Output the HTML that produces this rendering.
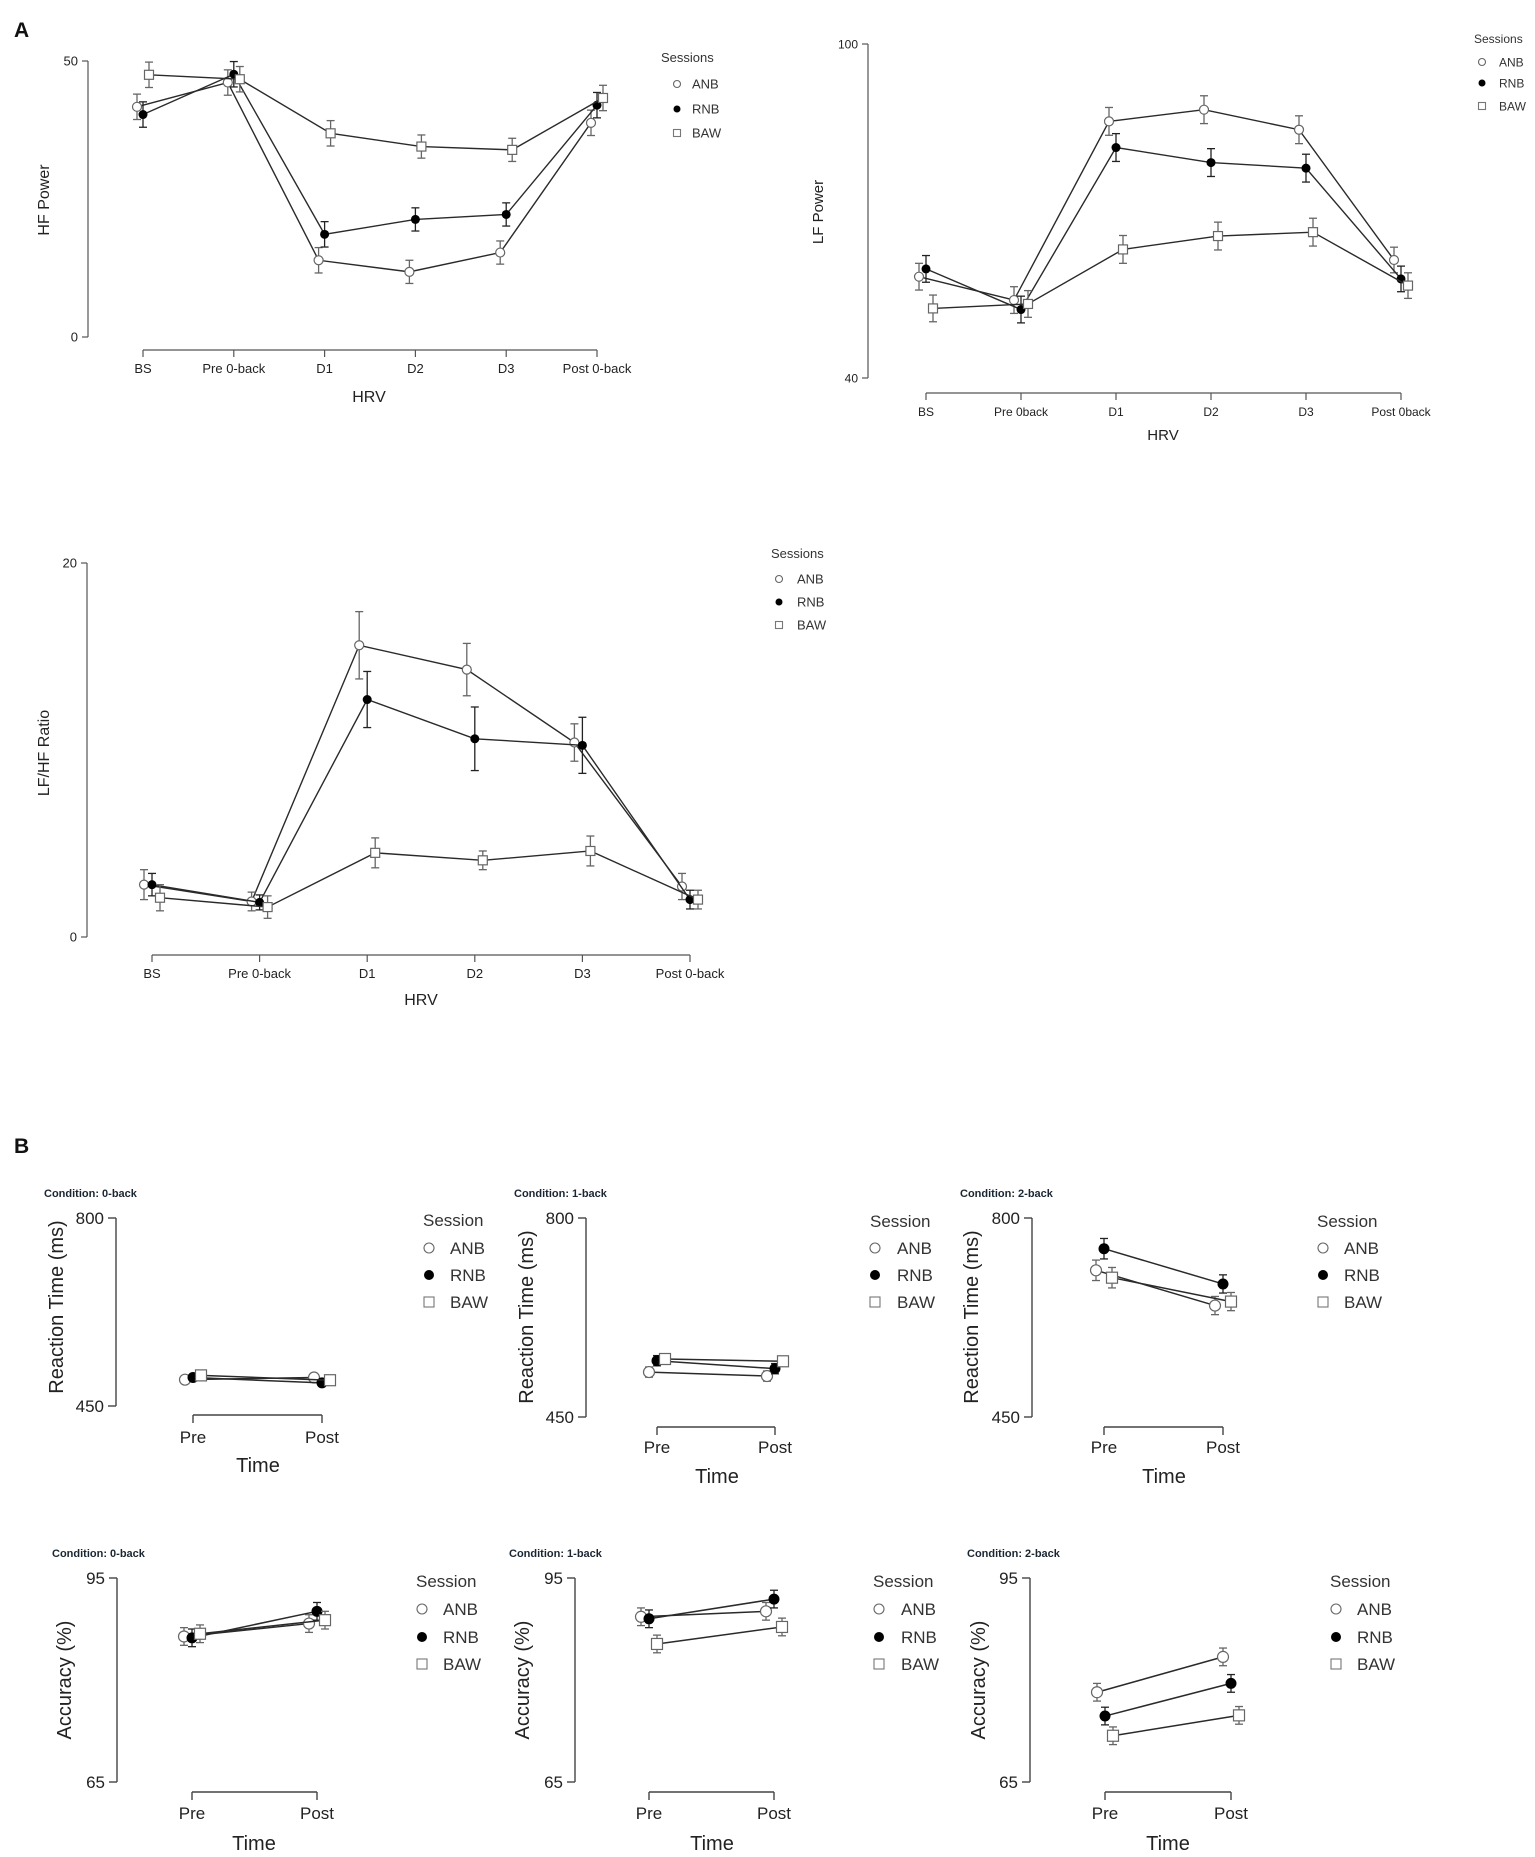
<!DOCTYPE html>
<html><head><meta charset="utf-8">
<style>
html,body{margin:0;padding:0;background:#fff;}
svg{display:block;font-family:"Liberation Sans",Arial,sans-serif;}
</style></head>
<body>
<svg id="fig" width="1535" height="1857" viewBox="0 0 1535 1857" xmlns="http://www.w3.org/2000/svg">
<rect width="1535" height="1857" fill="#fff"/>
<text x="14" y="37" font-size="21" font-weight="bold" fill="#111">A</text>
<text x="14" y="1153" font-size="21" font-weight="bold" fill="#111">B</text>
</svg>
<script>
// ---- Data ----
const sessions = ["ANB","RNB","BAW"];
const hrvCats = ["BS","Pre 0-back","D1","D2","D3","Post 0-back"];
const hrvCatsLF = ["BS","Pre 0back","D1","D2","D3","Post 0back"];
const timeCats = ["Pre","Post"];

const hfANB = [41.7,46.1,13.9,11.8,15.3,38.8];
const hfRNB = [40.3,47.6,18.6,21.3,22.2,42.0];
const hfBAW = [47.5,46.7,36.9,34.5,33.9,43.3];
const hfErr = [2.3,2.3,2.3,2.1,2.1,2.3];

const lfANB = [58.2,54.0,86.1,88.2,84.6,61.2];
const lfRNB = [59.6,52.3,81.4,78.7,77.7,57.8];
const lfBAW = [52.5,53.3,63.1,65.5,66.2,56.6];
const lfErr = [2.4,2.4,2.5,2.5,2.5,2.3];

const ratioANB = [2.8,1.9,15.6,14.3,10.4,2.7];
const ratioRNB = [2.8,1.85,12.7,10.6,10.25,2.0];
const ratioBAW = [2.1,1.6,4.5,4.1,4.6,2.0];
const ratioErrANB = [0.8,0.5,1.8,1.4,1.0,0.7];
const ratioErrRNB = [0.6,0.4,1.5,1.7,1.5,0.5];
const ratioErrBAW = [0.7,0.6,0.8,0.5,0.8,0.5];

const rt0ANB = [499,503], rt0RNB = [503,493], rt0BAW = [507,498];
const rt1ANB = [529,522], rt1RNB = [549,535], rt1BAW = [552,548];
const rt2ANB = [708,646], rt2RNB = [746,684], rt2BAW = [695,653];
const rtErr0 = [6,6], rtErr1 = [9,9], rtErr2 = [18,16];

const acc0ANB = [86.4,88.3], acc0RNB = [86.2,90.1], acc0BAW = [86.8,88.8];
const acc1ANB = [89.3,90.1], acc1RNB = [89.0,91.9], acc1BAW = [85.3,87.8];
const acc2ANB = [78.2,83.4], acc2RNB = [74.7,79.5], acc2BAW = [71.8,74.8];
const accErr = [1.3,1.3];

const hfTicks = [0,50], lfTicks = [40,100], ratioTicks = [0,20], rtTicks = [450,800], accTicks = [65,95];

// ---- Drawing ----
const svg = document.getElementById('fig');
const NS = 'http://www.w3.org/2000/svg';
function el(tag, attrs, parent){
  const e = document.createElementNS(NS, tag);
  for (const k in attrs) e.setAttribute(k, attrs[k]);
  (parent||svg).appendChild(e);
  return e;
}
function txt(x,y,s,size,anchor,parent,extra){
  const t = el('text',{x:x,y:y,'font-size':size,'text-anchor':anchor||'start',fill:'#222'},parent);
  if(extra) for(const k in extra) t.setAttribute(k,extra[k]);
  t.textContent = s;
  return t;
}

function panel(c){
  const g = el('g',{});
  
  
  const yScale = v => c.yBot - (v - c.ticks[0])/(c.ticks[1]-c.ticks[0])*(c.yBot-c.yTop);
  const n = c.cats.length;
  const xScale = i => c.x0 + i*(c.x1-c.x0)/(n-1);
  const ya = el('g',{},g);
  
  
  el('line',{x1:c.axX,y1:c.yTop,x2:c.axX,y2:c.yBot,stroke:c.axColor,'stroke-width':c.axW},ya);
  c.ticks.forEach(v=>{
    const y = yScale(v);
    el('line',{x1:c.axX-c.tickLen,y1:y,x2:c.axX,y2:y,stroke:c.axColor,'stroke-width':c.axW},ya);
    const t = txt(c.axX-c.tickLen-4,y+c.tickFs*0.36,String(v),c.tickFs,'end',ya);
    
    
  });
  const xa = el('g',{},g);
  
  
  el('line',{x1:c.x0,y1:c.baseY,x2:c.x1,y2:c.baseY,stroke:c.axColor,'stroke-width':c.axW},xa);
  c.cats.forEach((s,i)=>{
    const x = xScale(i);
    el('line',{x1:x,y1:c.baseY,x2:x,y2:c.baseY+c.xTickLen,stroke:c.axColor,'stroke-width':c.axW},xa);
    const t = txt(x,c.labY,s,c.xFs,'middle',xa);
    
    
  });
  const xt = txt(c.xTitleX,c.xTitleY,c.xTitle,c.titleFs,'middle',g);
  
  
  const yt = txt(0,0,c.yTitle,c.titleFs,'middle',g,{transform:`translate(${c.yTitleX},${c.yTitleY}) rotate(-90)`});
  
  
  if(c.cond){
    const ct = txt(c.condX,c.condY,c.cond,11,'start',g,{'font-weight':'bold',fill:'#1b2633'});
    
    
  }
  const shapes = ['circle','dot','square'];
  c.series.forEach((vals,si)=>{
    const sg = el('g',{},g);
    
    
    const off = c.offsets[si];
    const errs = Array.isArray(c.err[0]) ? c.err[si] : c.err;
    const pts = vals.map((v,i)=>[xScale(i)+off, yScale(v)]);
    el('polyline',{points:pts.map(p=>p.join(',')).join(' '),fill:'none',stroke:'#2a2a2a','stroke-width':c.lineW},sg);
    vals.forEach((v,i)=>{
      const x = pts[i][0], e = errs[i];
      const ya1 = yScale(v+e), ya2 = yScale(v-e);
      const ec = si===1 ? '#222' : '#666';
      el('line',{x1:x,y1:ya1,x2:x,y2:ya2,stroke:ec,'stroke-width':1.3},sg);
      el('line',{x1:x-c.cap,y1:ya1,x2:x+c.cap,y2:ya1,stroke:ec,'stroke-width':1.3},sg);
      el('line',{x1:x-c.cap,y1:ya2,x2:x+c.cap,y2:ya2,stroke:ec,'stroke-width':1.3},sg);
    });
    pts.forEach(p=>{
      let m;
      if(shapes[si]==='square') m = el('rect',{x:p[0]-c.r,y:p[1]-c.r,width:2*c.r,height:2*c.r,fill:'#fff',stroke:'#666','stroke-width':1.2},sg);
      else if(shapes[si]==='dot') m = el('circle',{cx:p[0],cy:p[1],r:c.r,fill:'#000'},sg);
      else m = el('circle',{cx:p[0],cy:p[1],r:c.r,fill:'#fff',stroke:'#666','stroke-width':1.2},sg);
      
      
    });
  });
  const lg = el('g',{},g);
  
  
  const lt = txt(c.legX,c.legTitleY,c.legTitle,c.legFs,'start',lg,{fill:'#333'});
  
  
  sessions.forEach((s,si)=>{
    const y = c.legYs[si];
    const eg = el('g',{},lg);
    
    
    const rr = c.legR;
    if(si===0) el('circle',{cx:c.legMX,cy:y,r:rr,fill:'#fff',stroke:'#666','stroke-width':1.1},eg);
    else if(si===1) el('circle',{cx:c.legMX,cy:y,r:rr,fill:'#000'},eg);
    else el('rect',{x:c.legMX-rr,y:y-rr,width:2*rr,height:2*rr,fill:'#fff',stroke:'#777','stroke-width':1.1},eg);
    txt(c.legTX,y+c.legFs*0.36,s,c.legFs,'start',eg,{fill:'#333'});
  });
}

const baseA = {axColor:'#555',axW:1.2,tickLen:6,xTickLen:7,lineW:1.4,cap:4,r:4.5,offsets:[-6,0,6],legR:3.5};
panel(Object.assign({},baseA,{name:'hf-power-chart',cats:hrvCats,series:[hfANB,hfRNB,hfBAW],err:hfErr,ticks:hfTicks,
  axX:88,yTop:61,yBot:337,x0:143,x1:597,baseY:350,labY:373,tickFs:13,xFs:13,titleFs:16,
  xTitle:'HRV',xTitleX:369,xTitleY:402,yTitle:'HF Power',yTitleX:49,yTitleY:200,
  legTitle:'Sessions',legX:661,legTitleY:62,legFs:13,legYs:[84,109,133],legMX:677,legTX:692}));
panel(Object.assign({},baseA,{name:'lf-power-chart',cats:hrvCatsLF,series:[lfANB,lfRNB,lfBAW],err:lfErr,ticks:lfTicks,
  axX:868,yTop:44,yBot:378,x0:926,x1:1401,baseY:393,labY:416,tickFs:12,xFs:12,titleFs:15,offsets:[-7,0,7],
  xTitle:'HRV',xTitleX:1163,xTitleY:440,yTitle:'LF Power',yTitleX:823,yTitleY:212,
  legTitle:'Sessions',legX:1474,legTitleY:43,legFs:12,legYs:[62,83,106],legMX:1482,legTX:1499}));
panel(Object.assign({},baseA,{name:'lf-hf-ratio-chart',cats:hrvCats,series:[ratioANB,ratioRNB,ratioBAW],err:[ratioErrANB,ratioErrRNB,ratioErrBAW],ticks:ratioTicks,
  axX:87,yTop:563,yBot:937,x0:152,x1:690,baseY:955,labY:978,tickFs:13,xFs:13,titleFs:16,offsets:[-8,0,8],
  xTitle:'HRV',xTitleX:421,xTitleY:1005,yTitle:'LF/HF Ratio',yTitleX:49,yTitleY:753,
  legTitle:'Sessions',legX:771,legTitleY:558,legFs:13,legYs:[579,602,625],legMX:779,legTX:797}));

const baseB = {axColor:'#444',axW:1.4,tickLen:8,xTickLen:8,lineW:1.5,cap:4,r:5.5,offsets:[-8,0,8],legR:5,
  tickFs:17,xFs:17,titleFs:20,legFs:17,xTitle:'Time',legTitle:'Session'};
panel(Object.assign({},baseB,{name:'rt-0back-chart',cond:'Condition: 0-back',condX:44,condY:1197,cats:timeCats,series:[rt0ANB,rt0RNB,rt0BAW],err:rtErr0,ticks:rtTicks,
  axX:116,yTop:1218,yBot:1406,x0:193,x1:322,baseY:1415,labY:1443,xTitleX:258,xTitleY:1472,
  yTitle:'Reaction Time (ms)',yTitleX:63,yTitleY:1307,legX:423,legTitleY:1226,legYs:[1248,1275,1302],legMX:429,legTX:450}));
panel(Object.assign({},baseB,{name:'rt-1back-chart',cond:'Condition: 1-back',condX:514,condY:1197,cats:timeCats,series:[rt1ANB,rt1RNB,rt1BAW],err:rtErr1,ticks:rtTicks,
  axX:586,yTop:1218,yBot:1417,x0:657,x1:775,baseY:1427,labY:1453,xTitleX:717,xTitleY:1483,
  yTitle:'Reaction Time (ms)',yTitleX:533,yTitleY:1317,legX:870,legTitleY:1227,legYs:[1248,1275,1302],legMX:875,legTX:897}));
panel(Object.assign({},baseB,{name:'rt-2back-chart',cond:'Condition: 2-back',condX:960,condY:1197,cats:timeCats,series:[rt2ANB,rt2RNB,rt2BAW],err:rtErr2,ticks:rtTicks,
  axX:1032,yTop:1218,yBot:1417,x0:1104,x1:1223,baseY:1427,labY:1453,xTitleX:1164,xTitleY:1483,
  yTitle:'Reaction Time (ms)',yTitleX:978,yTitleY:1317,legX:1317,legTitleY:1227,legYs:[1248,1275,1302],legMX:1323,legTX:1344}));
panel(Object.assign({},baseB,{name:'acc-0back-chart',cond:'Condition: 0-back',condX:52,condY:1557,cats:timeCats,series:[acc0ANB,acc0RNB,acc0BAW],err:accErr,ticks:accTicks,
  axX:117,yTop:1578,yBot:1782,x0:192,x1:317,baseY:1792,labY:1819,xTitleX:254,xTitleY:1850,
  yTitle:'Accuracy (%)',yTitleX:71,yTitleY:1680,legX:416,legTitleY:1587,legYs:[1609,1637,1664],legMX:422,legTX:443}));
panel(Object.assign({},baseB,{name:'acc-1back-chart',cond:'Condition: 1-back',condX:509,condY:1557,cats:timeCats,series:[acc1ANB,acc1RNB,acc1BAW],err:accErr,ticks:accTicks,
  axX:575,yTop:1578,yBot:1782,x0:649,x1:774,baseY:1792,labY:1819,xTitleX:712,xTitleY:1850,
  yTitle:'Accuracy (%)',yTitleX:529,yTitleY:1680,legX:873,legTitleY:1587,legYs:[1609,1637,1664],legMX:879,legTX:901}));
panel(Object.assign({},baseB,{name:'acc-2back-chart',cond:'Condition: 2-back',condX:967,condY:1557,cats:timeCats,series:[acc2ANB,acc2RNB,acc2BAW],err:accErr,ticks:accTicks,
  axX:1030,yTop:1578,yBot:1782,x0:1105,x1:1231,baseY:1792,labY:1819,xTitleX:1168,xTitleY:1850,
  yTitle:'Accuracy (%)',yTitleX:985,yTitleY:1680,legX:1330,legTitleY:1587,legYs:[1609,1637,1664],legMX:1336,legTX:1357}));
</script>
</body></html>
